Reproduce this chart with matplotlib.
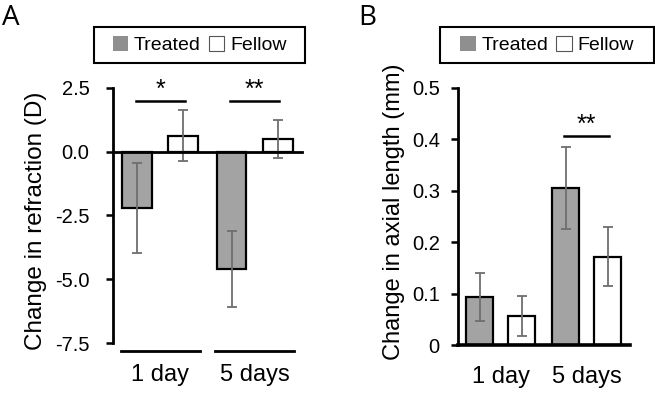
import matplotlib
matplotlib.use("Agg")
import matplotlib.pyplot as plt
from matplotlib.patches import Patch, Rectangle
import numpy as np

plt.rcParams["font.family"] = ["Liberation Sans", "DejaVu Sans"]

# ── Data ─────────────────────────────────────────────────────────────
groups = ["1 day", "5 days"]
series = ["Treated", "Fellow"]

refr_treated = [-2.2, -4.6]
refr_treated_sd = [1.76, 1.48]
refr_fellow = [0.62, 0.5]
refr_fellow_sd = [1.0, 0.75]
refr_ticks = [2.5, 0.0, -2.5, -5.0, -7.5]
refr_ticklabels = ["2.5", "0.0", "-2.5", "-5.0", "-7.5"]
refr_sig = [("*", 2.0), ("**", 2.0)]

axl_treated = [0.094, 0.306]
axl_treated_sd = [0.047, 0.08]
axl_fellow = [0.056, 0.172]
axl_fellow_sd = [0.039, 0.058]
axl_ticks = [0, 0.1, 0.2, 0.3, 0.4, 0.5]
axl_ticklabels = ["0", "0.1", "0.2", "0.3", "0.4", "0.5"]
axl_sig = [None, ("**", 0.406)]

GRAY = "#a3a3a3"
ERR = "#6e6e6e"
W = 0.315
OFF = 0.245


def draw_panel(ax, treated, t_sd, fellow, f_sd, sig, ylim, ticks, ticklabels,
               star_gap, zero_spine):
    x = np.arange(len(groups))
    ekw = dict(ecolor=ERR, elinewidth=1.3, capsize=3.5, capthick=1.3)
    ax.bar(x - OFF, treated, W, color=GRAY, edgecolor="black", linewidth=1.6,
           yerr=t_sd, error_kw=ekw, zorder=2)
    ax.bar(x + OFF, fellow, W, color="white", edgecolor="black", linewidth=1.6,
           yerr=f_sd, error_kw=ekw, zorder=2)

    ax.set_xlim(-0.5, 1.5)
    ax.set_ylim(*ylim)
    ax.set_yticks(ticks)
    ax.set_yticklabels(ticklabels)
    ax.tick_params(axis="y", direction="out", length=5, width=1.8, labelsize=14.5)
    ax.tick_params(axis="x", bottom=False, labelbottom=False)

    for s in ["top", "right"]:
        ax.spines[s].set_visible(False)
    ax.spines["left"].set_linewidth(2.0)
    ax.spines["bottom"].set_linewidth(2.0)
    if zero_spine:
        ax.spines["bottom"].set_position(("data", 0))

    # significance bars
    for i, s in enumerate(sig):
        if s is None:
            continue
        label, h = s
        ax.plot([x[i] - 0.26, x[i] + 0.26], [h, h], color="black", lw=1.8,
                clip_on=False)
        ax.text(x[i], h + star_gap, label, ha="center", va="center",
                fontsize=18, clip_on=False)

    # category labels
    for i, g in enumerate(groups):
        ax.text(x[i], -0.125, g, ha="center", va="center", fontsize=17,
                transform=ax.get_xaxis_transform())


fig = plt.figure(figsize=(6.55, 3.93), dpi=100)

axA = fig.add_axes([0.1725, 0.1272, 0.2885, 0.649])
draw_panel(axA, refr_treated, refr_treated_sd, refr_fellow, refr_fellow_sd,
           refr_sig, (-7.5, 2.5), refr_ticks, refr_ticklabels, 0.42, True)
axA.tick_params(axis="y", pad=12)
# group underlines below the axis
for i in range(len(groups)):
    axA.plot([i - 0.42, i + 0.42], [-0.03, -0.03], color="black", lw=2.0,
             transform=axA.get_xaxis_transform(), clip_on=False)

axB = fig.add_axes([0.699, 0.1221, 0.2626, 0.654])
draw_panel(axB, axl_treated, axl_treated_sd, axl_fellow, axl_fellow_sd,
           axl_sig, (0, 0.5), axl_ticks, axl_ticklabels, 0.022, False)
axB.tick_params(axis="y", pad=8)
axB.spines["bottom"].set_linewidth(2.6)

fig.text(36 / 655, 1 - 221 / 393, "Change in refraction (D)", rotation=90,
         ha="center", va="center", fontsize=17.5)
fig.text(394 / 655, 1 - 212 / 393, "Change in axial length (mm)", rotation=90,
         ha="center", va="center", fontsize=17)

fig.text(0.003, 0.99, "A", ha="left", va="top", fontsize=20, family="Open Sans")
fig.text(358 / 655, 0.99, "B", ha="left", va="top", fontsize=20, family="Open Sans")

# legends: boxed, above each panel
handles = [Patch(facecolor="#8f8f8f", edgecolor="none"),
           Patch(facecolor="white", edgecolor="#555555", linewidth=0.8)]
for x0, x1 in [(94, 305), (440, 654)]:
    fig.patches.append(Rectangle((x0 / 655, 1 - 63 / 393), (x1 - x0) / 655, 36 / 393,
                                 transform=fig.transFigure, facecolor="white",
                                 edgecolor="black", linewidth=1.5, zorder=0))
    fig.legend(handles, series, loc="center",
               bbox_to_anchor=((x0 + x1) / 2 / 655, 1 - 45 / 393),
               ncol=2, fontsize=14, frameon=False,
               handlelength=0.8, handleheight=0.8, handletextpad=0.3,
               columnspacing=0.4, borderpad=0, borderaxespad=0)

fig.savefig("out.png", dpi=100)
